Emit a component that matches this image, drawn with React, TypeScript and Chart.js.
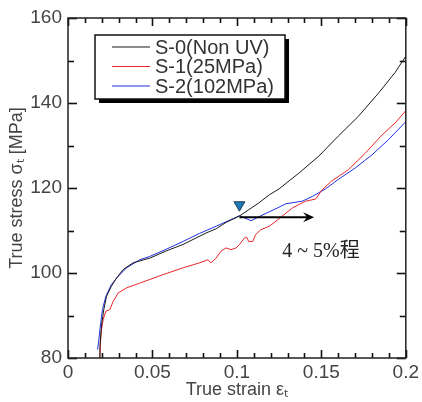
import React, { useEffect, useRef } from "react";
import { Chart, registerables } from "chart.js";

Chart.register(...registerables);

// ---- Data ----
const s0Strain = [0.0185, 0.0189, 0.0198, 0.0212, 0.0228, 0.0257, 0.0287, 0.0326, 0.0385, 0.0484, 0.0582, 0.068, 0.0817, 0.0877, 0.0935, 0.1015, 0.113, 0.1192, 0.125, 0.1367, 0.1485, 0.16, 0.172, 0.184, 0.1937, 0.2];
const s0Stress = [80, 82.7, 87.5, 91.4, 94.5, 96.9, 98.8, 100.8, 102.4, 103.5, 105.2, 106.7, 109.4, 110.4, 111.9, 113.4, 116.5, 118.4, 119.8, 123.5, 127.5, 132.2, 136.9, 142.4, 147.2, 151];

const s1Strain = [0.0189, 0.0192, 0.0198, 0.0208, 0.0224, 0.0248, 0.0267, 0.0297, 0.0346, 0.0424, 0.0562, 0.068, 0.0779, 0.0828, 0.0846, 0.0877, 0.0905, 0.0936, 0.0965, 0.0995, 0.1015, 0.1044, 0.1058, 0.107, 0.1094, 0.111, 0.1142, 0.1192, 0.1241, 0.1328, 0.1407, 0.1466, 0.1505, 0.156, 0.166, 0.176, 0.186, 0.1937, 0.2];
const s1Stress = [80, 83.5, 86.7, 89, 91, 91.4, 93.3, 95.3, 96.5, 97.6, 99.6, 101.2, 102.4, 103.1, 102.4, 103.5, 105.1, 105.9, 105.5, 105.9, 106.7, 108.2, 108.4, 107.4, 107.4, 109, 110.2, 111, 112.5, 115.3, 116.9, 117.4, 119.6, 121.6, 124.3, 128.2, 132.5, 135.3, 138.2];

const s2Strain = [0.0175, 0.0182, 0.0189, 0.0204, 0.0224, 0.0257, 0.0297, 0.0346, 0.0424, 0.0484, 0.0582, 0.068, 0.0778, 0.0877, 0.0995, 0.1015, 0.1084, 0.1133, 0.124, 0.129, 0.1387, 0.1446, 0.1525, 0.16, 0.17, 0.18, 0.1898, 0.2];
const s2Stress = [82, 84, 86.7, 91.4, 94.5, 97.3, 99.2, 101.2, 103.1, 103.9, 105.6, 107.4, 109.3, 111, 113.1, 113.5, 112.3, 113.3, 115.3, 116.3, 116.9, 118, 119.8, 122, 124.7, 127.8, 131.4, 135.6];

const seriesLabels = ["S-0(Non UV)", "S-1(25MPa)", "S-2(102MPa)"];
const xTickLabels = ["0", "0.05", "0.1", "0.15", "0.2"];
const yTickLabels = ["80", "100", "120", "140", "160"];
const xMinorTicks = [0, 0.01, 0.02, 0.03, 0.04, 0.05, 0.06, 0.07, 0.08, 0.09, 0.1, 0.11, 0.12, 0.13, 0.14, 0.15, 0.16, 0.17, 0.18, 0.19, 0.2];
const yMinorTicks = [80, 90, 100, 110, 120, 130, 140, 150, 160];

// annotation values
const markerPoint = { x: 0.1015, y: 115.6 };
const arrowStart = { x: 0.1015, y: 113.1 };
const arrowEnd = { x: 0.1457, y: 113.1 };
const noteText = "4 ~ 5%程";
const notePos = { x: 0.1268, y: 103.8 };

const pts = (xs: number[], ys: number[]) => xs.map((x, i) => ({ x, y: ys[i] }));

const frameTicksPlugin = {
  id: "frameTicks",
  afterDatasetsDraw(chart: any) {
    const ctx = chart.ctx;
    const a = chart.chartArea;
    const xs = chart.scales.x;
    const ys = chart.scales.y;
    ctx.save();
    ctx.strokeStyle = "#111";
    ctx.lineWidth = 1.6;
    xMinorTicks.forEach((v, i) => {
      const px = Math.round(xs.getPixelForValue(v)) + 0.5;
      const len = i % 5 === 0 ? 8 : 5;
      ctx.beginPath();
      ctx.moveTo(px, a.bottom);
      ctx.lineTo(px, a.bottom - len);
      ctx.stroke();
      ctx.beginPath();
      ctx.moveTo(px, a.top);
      ctx.lineTo(px, a.top + len);
      ctx.stroke();
    });
    yMinorTicks.forEach((v, i) => {
      const py = Math.round(ys.getPixelForValue(v)) + 0.5;
      const len = i % 2 === 0 ? 9 : 6;
      ctx.beginPath();
      ctx.moveTo(a.left, py);
      ctx.lineTo(a.left + len, py);
      ctx.stroke();
      ctx.beginPath();
      ctx.moveTo(a.right, py);
      ctx.lineTo(a.right - len, py);
      ctx.stroke();
    });
    ctx.strokeStyle = "#222";
    ctx.lineWidth = 1.5;
    ctx.strokeRect(a.left, a.top, a.right - a.left, a.bottom - a.top);
    ctx.restore();
  },
};

const annotationPlugin = {
  id: "annotations",
  afterDraw(chart: any) {
    const { ctx, chartArea: a, scales } = chart;
    const xs = scales.x;
    const ys = scales.y;
    ctx.save();
    // arrow
    const x1 = xs.getPixelForValue(arrowStart.x);
    const x2 = xs.getPixelForValue(arrowEnd.x);
    const ay = ys.getPixelForValue(arrowStart.y);
    ctx.strokeStyle = "#000";
    ctx.fillStyle = "#000";
    ctx.lineWidth = 2;
    ctx.beginPath();
    ctx.moveTo(x1, ay);
    ctx.lineTo(x2 - 6, ay);
    ctx.stroke();
    ctx.beginPath();
    ctx.moveTo(x2, ay);
    ctx.lineTo(x2 - 11, ay - 5);
    ctx.lineTo(x2 - 7, ay);
    ctx.lineTo(x2 - 11, ay + 5);
    ctx.closePath();
    ctx.fill();
    // triangle marker
    const tx = xs.getPixelForValue(markerPoint.x);
    const ty = ys.getPixelForValue(markerPoint.y);
    ctx.beginPath();
    ctx.moveTo(tx - 5.5, ty - 5);
    ctx.lineTo(tx + 5.5, ty - 5);
    ctx.lineTo(tx, ty + 4.5);
    ctx.closePath();
    ctx.fillStyle = "#1e78b4";
    ctx.fill();
    ctx.strokeStyle = "#123";
    ctx.lineWidth = 0.8;
    ctx.stroke();
    // note text
    ctx.fillStyle = "#222";
    ctx.font = '20px "Liberation Serif", "Noto Sans CJK JP", serif';
    ctx.textBaseline = "alphabetic";
    ctx.textAlign = "left";
    ctx.fillText(noteText, xs.getPixelForValue(notePos.x), ys.getPixelForValue(notePos.y));

    // legend
    const bx = a.left + 27;
    const by = a.top + 17;
    const bw = 190;
    const bh = 64;
    ctx.fillStyle = "#000";
    ctx.fillRect(bx + 4, by + 4, bw, bh);
    ctx.fillStyle = "#fff";
    ctx.fillRect(bx, by, bw, bh);
    ctx.strokeStyle = "#111";
    ctx.lineWidth = 1.5;
    ctx.strokeRect(bx, by, bw, bh);
    ctx.font = '20px "Liberation Sans", Arial, sans-serif';
    ctx.textBaseline = "middle";
    chart.data.datasets.forEach((ds: any, i: number) => {
      const ly = by + 12 + i * 19.5;
      ctx.strokeStyle = ds.borderColor;
      ctx.lineWidth = 1.2;
      ctx.beginPath();
      ctx.moveTo(bx + 17, ly);
      ctx.lineTo(bx + 55, ly);
      ctx.stroke();
      ctx.fillStyle = "#333";
      ctx.fillText(ds.label, bx + 60, ly + 1);
    });
    ctx.restore();
  },
};

export default function App() {
  const ref = useRef<HTMLCanvasElement | null>(null);
  useEffect(() => {
    if (!ref.current) return;
    const chart = new Chart(ref.current, {
      type: "scatter",
      data: {
        datasets: [
          { label: seriesLabels[0], data: pts(s0Strain, s0Stress), borderColor: "#1a1a1a", showLine: true, pointRadius: 0, borderWidth: 1, tension: 0 },
          { label: seriesLabels[1], data: pts(s1Strain, s1Stress), borderColor: "#e8262a", showLine: true, pointRadius: 0, borderWidth: 1, tension: 0 },
          { label: seriesLabels[2], data: pts(s2Strain, s2Stress), borderColor: "#2030e0", showLine: true, pointRadius: 0, borderWidth: 1, tension: 0 },
        ],
      },
      options: {
        responsive: false,
        animation: false,
        layout: { padding: { left: 0, top: 18, right: 15, bottom: 0 } },
        plugins: { legend: { display: false }, tooltip: { enabled: false } },
        scales: {
          x: {
            type: "linear",
            min: 0,
            max: 0.2,
            afterFit: (s: any) => { s.height = 44; },
            grid: { display: false, drawTicks: false },
            border: { display: false },
            ticks: {
              stepSize: 0.05,
              padding: 3,
              color: "#444",
              font: { family: '"Liberation Sans", Arial, sans-serif', size: 19 },
              callback: (_v: any, i: number) => xTickLabels[i],
            },
            title: {
              display: true,
              text: "True strain εₜ",
              color: "#444",
              font: { family: '"Liberation Sans", Arial, sans-serif', size: 18 },
              padding: { top: 0, bottom: 1 },
            },
          },
          y: {
            type: "linear",
            min: 80,
            max: 160,
            afterFit: (s: any) => { s.width = 68; },
            grid: { display: false, drawTicks: false },
            border: { display: false },
            ticks: {
              stepSize: 20,
              padding: 6,
              color: "#444",
              font: { family: '"Liberation Sans", Arial, sans-serif', size: 19 },
              callback: (_v: any, i: number) => yTickLabels[i],
            },
            title: {
              display: true,
              text: "True stress σₜ [MPa]",
              color: "#444",
              font: { family: '"Liberation Sans", Arial, sans-serif', size: 18 },
              padding: { top: 6, bottom: 0 },
            },
          },
        },
      },
      plugins: [frameTicksPlugin, annotationPlugin],
    });
    return () => chart.destroy();
  }, []);
  return (
    <canvas
      ref={ref}
      width={422}
      height={402}
      style={{ position: "fixed", left: 0, top: 0, display: "block", background: "#fff" }}
    />
  );
}
